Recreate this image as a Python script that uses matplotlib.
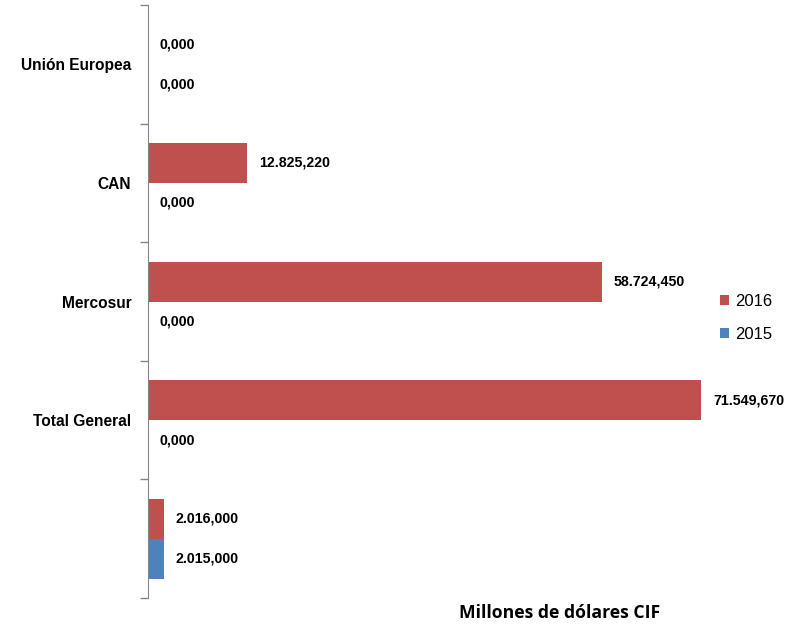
import matplotlib
matplotlib.use("Agg")
import matplotlib.pyplot as plt
import numpy as np

categories = ["Unión Europea", "CAN", "Mercosur", "Total General", ""]
values_2016 = [0.0, 12825.220, 58724.450, 71549.670, 2016.0]
values_2015 = [0.0, 0.0, 0.0, 0.0, 2015.0]
series_names = ["2016", "2015"]

RED = "#C0504D"
BLUE = "#4F81BD"
LABEL_FONT = ["Liberation Sans", "DejaVu Sans"]


def fmt_es(v):
    s = f"{v:,.3f}"
    return s.replace(",", "X").replace(".", ",").replace("X", ".")


fig = plt.figure(figsize=(7.93, 6.25), dpi=100)
ax = fig.add_axes([148 / 793, 1 - 598 / 625, 645 / 793, 593 / 625])

y = np.arange(len(categories))
h = 0.337
bars16 = ax.barh(y - h / 2, values_2016, height=h, color=RED, label=series_names[0])
bars15 = ax.barh(y + h / 2, values_2015, height=h, color=BLUE, label=series_names[1])

ax.set_xlim(0, 645 * 71549.670 / 553)
ax.set_ylim(len(categories) - 0.5, -0.5)

for bars, vals in [(bars16, values_2016), (bars15, values_2015)]:
    for b, v in zip(bars, vals):
        ax.annotate(fmt_es(v), xy=(v, b.get_y() + b.get_height() / 2),
                    xytext=(8.6, 0), textcoords="offset points",
                    ha="left", va="center", fontsize=10.2, fontweight="bold",
                    family=LABEL_FONT)

# category labels at centers, tick marks at boundaries
ax.set_yticks(y)
ax.set_yticklabels(categories, fontsize=11.2, fontweight="bold", family=LABEL_FONT)
ax.tick_params(axis="y", which="major", length=0, pad=12)
ax.set_yticks(np.arange(-0.5, len(categories)), minor=True)
ax.tick_params(axis="y", which="minor", length=6, width=1, color="#868686", direction="out")

ax.set_xticks([])
for s in ["top", "right", "bottom"]:
    ax.spines[s].set_visible(False)
ax.spines["left"].set_color("#868686")

fig.text(560 / 793, 1 - 613 / 625, "Millones de dólares CIF", ha="center", va="center",
         fontsize=12.7, fontweight="bold", family="Open Sans")

ax.legend(loc="center left", bbox_to_anchor=(705 / 793, 1 - 318 / 625),
          bbox_transform=fig.transFigure, frameon=False,
          prop={"family": LABEL_FONT, "size": 12},
          handlelength=0.55, handleheight=0.55, handletextpad=0.35, labelspacing=1.05)

fig.savefig("out.png", dpi=100)
